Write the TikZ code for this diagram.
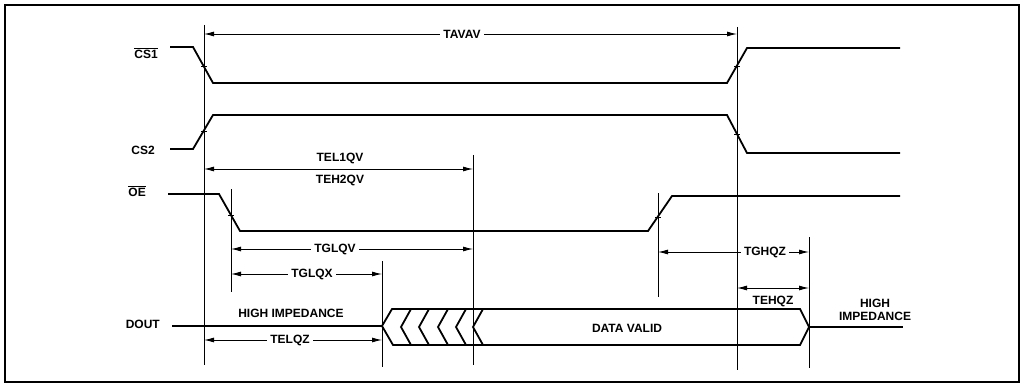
\documentclass[tikz,border=0pt]{standalone}
\usepackage{fontspec}
\setmainfont{Liberation Sans}
\usetikzlibrary{arrows.meta}
\begin{document}
\begin{tikzpicture}[x=1pt,y=-1pt,
  sig/.style={line width=1.8pt,line join=miter},
  guide/.style={line width=0.9pt},
  dim/.style={line width=0.9pt,{Latex[length=10pt,width=5pt]}-{Latex[length=10pt,width=5pt]}},
  lbl/.style={font=\fontsize{12}{13.5}\selectfont\bfseries,inner sep=1pt},
  gap/.style={lbl,fill=white,inner xsep=3pt},
  tick/.style={line width=0.9pt}]
\useasboundingbox (0,0) rectangle (1023,385);
\fill[white] (0,0) rectangle (1023,385);
\draw[line width=1.3pt] (5,5) rectangle (1019,382);

% signal labels
\node[lbl,anchor=east] (lcs1) at (159,53) {$\overline{\mbox{CS1}}$};
\node[lbl,anchor=east] (lcs2) at (156,150) {CS2};
\node[lbl,anchor=east] (loe) at (147,191) {$\overline{\mbox{OE}}$};
\node[lbl,anchor=east] (ldout) at (161,324) {DOUT};

% waveforms
\draw[sig] (170,47) -- (193,47) -- (213,83) -- (727,83) -- (747,48) -- (900,48);
\draw[sig] (170,149) -- (193,149) -- (213,115) -- (727,115) -- (747,153) -- (900,153);
\draw[sig] (168,194) -- (219,194) -- (240,231) -- (648,231) -- (672,196) -- (900,196);
\draw[sig] (172,326) -- (382,326);
\draw[sig] (382,326) -- (392,309) -- (800,309) -- (809,327) -- (800,345) -- (393,345) -- cycle;
\foreach \xx in {401,419,438,456,473}
  \draw[sig] (\xx+10,309) -- (\xx,327) -- (\xx+10,345);
\draw[sig] (809,327) -- (903,327);

% crossing ticks
\foreach \xx/\yy in {204/66,204/131,737/66,737/134,231/215,658/217}
  \draw[tick] (\xx-3,\yy) -- (\xx+3,\yy);

% guide lines
\coordinate (g1t) at (204,25);  \coordinate (g1b) at (204,365);
\coordinate (g2t) at (737,27);  \coordinate (g2b) at (737,370);
\coordinate (g3t) at (473,155); \coordinate (g3b) at (473,365);
\coordinate (g4t) at (231,189); \coordinate (g4b) at (231,292);
\coordinate (g5t) at (658,193); \coordinate (g5b) at (658,297);
\coordinate (g6t) at (382,261); \coordinate (g6b) at (382,367);
\coordinate (g7t) at (809,237); \coordinate (g7b) at (809,368);
\foreach \g in {1,...,7} \draw[guide] (g\g t) -- (g\g b);

% dimension arrows
\coordinate (a1) at (204,34);  \coordinate (b1) at (737,34);
\draw[dim] (a1) -- (b1);
\node[gap] (tavav) at (462,34) {TAVAV};

\coordinate (a2) at (204,169); \coordinate (b2) at (473,169);
\draw[dim] (a2) -- (b2);
\node[lbl] (tel1qv) at (340,158) {TEL1QV};
\node[lbl] (teh2qv) at (340,180) {TEH2QV};

\coordinate (a3) at (231,249); \coordinate (b3) at (473,249);
\draw[dim] (a3) -- (b3);
\node[gap] (tglqv) at (335,249) {TGLQV};

\coordinate (a4) at (231,274); \coordinate (b4) at (382,274);
\draw[dim] (a4) -- (b4);
\node[gap] (tglqx) at (312,274) {TGLQX};

\coordinate (a5) at (204,340); \coordinate (b5) at (382,340);
\draw[dim] (a5) -- (b5);
\node[gap] (telqz) at (290,340) {TELQZ};

\coordinate (a6) at (658,252); \coordinate (b6) at (809,252);
\draw[dim] (a6) -- (b6);
\node[gap] (tghqz) at (765,252) {TGHQZ};

\coordinate (a7) at (737,288); \coordinate (b7) at (809,288);
\draw[dim] (a7) -- (b7);
\node[lbl] (tehqz) at (773,301) {TEHQZ};

% bus labels
\node[lbl] (hiz1) at (291,313) {HIGH IMPEDANCE};
\node[lbl] (dv) at (627,328) {DATA VALID};
\node[lbl,align=center] (hiz2) at (875,310) {HIGH\\IMPEDANCE};
\end{tikzpicture}
\end{document}
